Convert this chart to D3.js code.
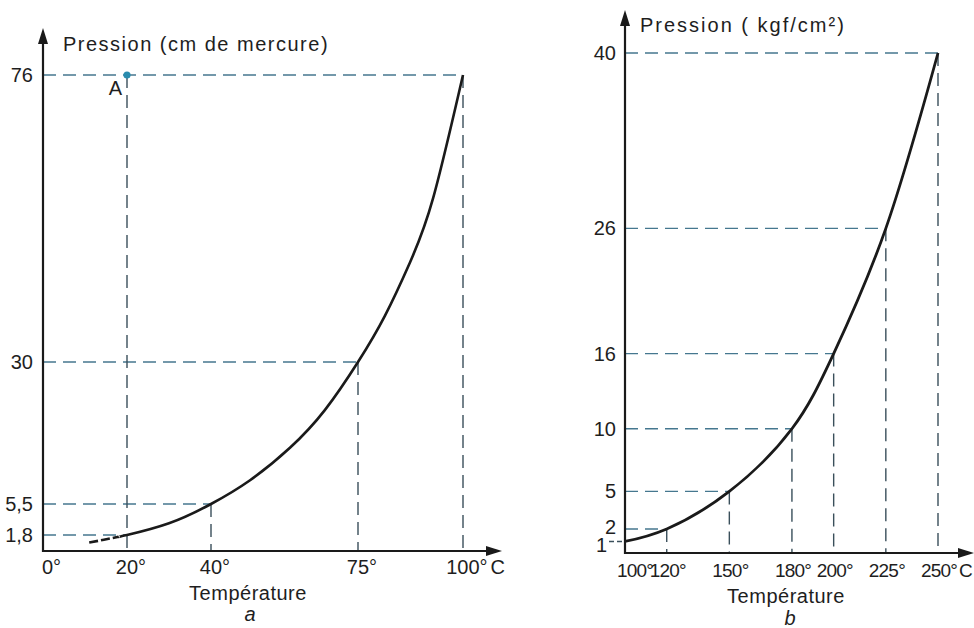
<!DOCTYPE html>
<html>
<head>
<meta charset="utf-8">
<script src="https://cdn.jsdelivr.net/npm/d3@7"></script>
<style>
  body { margin: 0; background: #fff; }
  text { font-family: "Liberation Sans", Arial, sans-serif; fill: #1e1e1e; }
</style>
</head>
<body>
<svg id="chart" width="974" height="628"></svg>
<script>
// graph a : eau entre 0 et 100 °C (cm de mercure)
var aTicksT = [0, 20, 40, 75, 100];
var aTicksP = [1.8, 5.5, 30, 76];
var aGuideT = [20, 40, 75, 100]; // température lue pour chaque valeur de aTicksP
var aPointA = [20, 76];
var aDashT = [11, 14.5, 18];
var aDashP = [0.95, 1.27, 1.6];
var aCurveT = [18, 20, 30, 40, 49.3, 58.8, 67.1, 75, 81.4, 87.4, 92.9, 100];
var aCurveP = [1.6, 1.8, 3.2, 5.5, 9.6, 15.2, 21.7, 30, 37.4, 46, 56.3, 76];

// graph b : 100 - 250 °C (kgf/cm2)
var bTicksT = [100, 120, 150, 180, 200, 225, 250];
var bTicksP = [1, 2, 5, 10, 16, 26, 40];
var bCurveT = [100, 120, 150, 180, 200, 225, 250];
var bCurveP = [1, 2, 5, 10, 16, 26, 40];

var hCol = "#45778f", vCol = "#3a4f5b", inkCol = "#1a1a1a";
var fr = d3.formatLocale({decimal: ",", thousands: " ", grouping: [3], currency: ["", ""]});
var fmt = fr.format("~g");

var svg = d3.select("#chart");
svg.append("rect").attr("width", 974).attr("height", 628).attr("fill", "#fff");

// scales (the y axis of a is not uniform in the book, hence the polylinear scale)
var xA = d3.scaleLinear().domain([0, 100]).range([43, 463]);
var yA = d3.scaleLinear().domain([0].concat(aTicksP)).range([551, 535, 504, 362, 75]);
var xB = d3.scaleLinear().domain([100, 250]).range([625, 938]);
var yB = d3.scaleLinear().domain([0, 40]).range([554, 53]);

function guide(g, x1, y1, x2, y2, col, dash) {
    return g.append("line")
        .attr("x1", x1).attr("y1", y1).attr("x2", x2).attr("y2", y2)
        .attr("stroke", col).attr("stroke-width", 1.4)
        .attr("stroke-dasharray", dash || "13,7");
}

function arrowAxes(g, ox, oy, topY, rightX) {
    g.append("line").attr("x1", ox).attr("y1", oy + 1).attr("x2", ox).attr("y2", topY + 12)
        .attr("stroke", inkCol).attr("stroke-width", 2.2);
    g.append("line").attr("x1", ox - 1).attr("y1", oy).attr("x2", rightX - 12).attr("y2", oy)
        .attr("stroke", inkCol).attr("stroke-width", 2.2);
    g.append("path")
        .attr("d", "M" + ox + "," + topY + "L" + (ox - 5) + "," + (topY + 16) + "L" + (ox + 5) + "," + (topY + 16) + "Z")
        .attr("fill", inkCol);
    g.append("path")
        .attr("d", "M" + rightX + "," + oy + "L" + (rightX - 16) + "," + (oy - 5) + "L" + (rightX - 16) + "," + (oy + 5) + "Z")
        .attr("fill", inkCol);
}

var line = d3.line().curve(d3.curveNatural);

// ---------- graph a ----------
var ga = svg.append("g");

aTicksP.forEach(function(p, i) {
    guide(ga, xA(0), yA(p), xA(aGuideT[i]), yA(p), hCol);
});
aGuideT.forEach(function(t, i) {
    var top = t === aPointA[0] ? aPointA[1] : aTicksP[i];
    guide(ga, xA(t), yA(top), xA(t), yA(0), vCol);
});

ga.append("path")
    .attr("d", line(aDashT.map(function(t, i) { return [xA(t), yA(aDashP[i])]; })))
    .attr("fill", "none").attr("stroke", inkCol).attr("stroke-width", 2.6)
    .attr("stroke-dasharray", "9,3");
ga.append("path")
    .attr("d", line(aCurveT.map(function(t, i) { return [xA(t), yA(aCurveP[i])]; })))
    .attr("fill", "none").attr("stroke", inkCol).attr("stroke-width", 2.6);

arrowAxes(ga, xA(0), yA(0), 28, 502);

ga.append("circle").attr("cx", xA(aPointA[0])).attr("cy", yA(aPointA[1])).attr("r", 3.6)
    .attr("fill", "#2a8cae");
ga.append("text").attr("x", xA(aPointA[0]) - 5).attr("y", yA(aPointA[1]) + 20)
    .attr("text-anchor", "end").attr("font-size", 20).text("A");

aTicksP.forEach(function(p) {
    ga.append("text").attr("x", 33).attr("y", yA(p) + 7)
        .attr("text-anchor", "end").attr("font-size", 20).text(fmt(p));
});
aTicksT.forEach(function(t, i) {
    var n = String(t).length;
    var txt = ga.append("text").attr("x", i === 0 ? 42 : xA(t) - n * 5.6).attr("y", 574)
        .attr("font-size", 20).text(t + "°");
    if (i === aTicksT.length - 1) txt.append("tspan").attr("dx", 3).text("C");
});

ga.append("text").attr("x", 63).attr("y", 51).attr("font-size", 20)
    .attr("letter-spacing", 1.5).text("Pression (cm de mercure)");
ga.append("text").attr("x", 248).attr("y", 600).attr("text-anchor", "middle")
    .attr("font-size", 20).attr("letter-spacing", 0.5).text("Température");
ga.append("text").attr("x", 250).attr("y", 621).attr("text-anchor", "middle")
    .attr("font-size", 20).attr("font-style", "italic").text("a");

// ---------- graph b ----------
var gb = svg.append("g");

bTicksP.forEach(function(p, i) {
    if (i === 0) {
        guide(gb, 609, yB(p), xB(100) - 1, yB(p), vCol, "5,3");
        return;
    }
    guide(gb, xB(100), yB(p), xB(bTicksT[i]), yB(p), hCol);
    guide(gb, xB(bTicksT[i]), yB(p), xB(bTicksT[i]), yB(0), vCol);
});

gb.append("path")
    .attr("d", line(bCurveT.map(function(t, i) { return [xB(t), yB(bCurveP[i])]; })))
    .attr("fill", "none").attr("stroke", inkCol).attr("stroke-width", 2.8);

arrowAxes(gb, xB(100), yB(0) - 1, 10, 974);

bTicksP.forEach(function(p) {
    var dy = p === 1 ? 11 : (p === 2 ? 5 : 7);
    gb.append("text").attr("x", p === 1 ? 607 : 616).attr("y", yB(p) + dy)
        .attr("text-anchor", "end").attr("font-size", 20).text(fmt(p));
});
bTicksT.forEach(function(t, i) {
    var last = i === bTicksT.length - 1;
    var txt = gb.append("text").attr("y", 577)
        .attr("font-size", 19).attr("letter-spacing", -0.8).text(t + "°");
    if (i === 0) txt.attr("x", xB(t) - 8);
    else txt.attr("x", xB(t) - 17);
    if (last) txt.append("tspan").attr("dx", 2).text("C");
});

gb.append("text").attr("x", 640).attr("y", 32).attr("font-size", 20)
    .attr("letter-spacing", 2).text("Pression ( kgf/cm²)");
gb.append("text").attr("x", 786).attr("y", 603).attr("text-anchor", "middle")
    .attr("font-size", 20).attr("letter-spacing", 0.5).text("Température");
gb.append("text").attr("x", 790).attr("y", 625).attr("text-anchor", "middle")
    .attr("font-size", 20).attr("font-style", "italic").text("b");
</script>
</body>
</html>
